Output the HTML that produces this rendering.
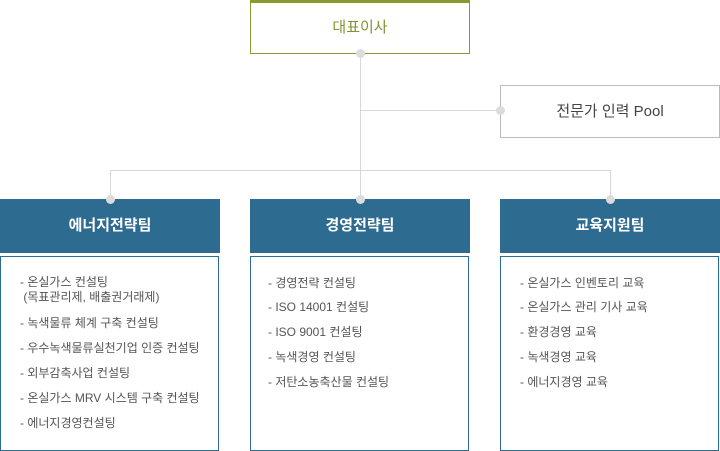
<!DOCTYPE html>
<html><head><meta charset="utf-8"><style>
body{margin:0;width:720px;height:451px;position:relative;background:#fff;font-family:"Liberation Sans","Noto Sans CJK KR",sans-serif;overflow:hidden}
.a{position:absolute}
.top{left:250px;top:0;width:218px;height:50px;border:1px solid #8a9a30;border-top:3px solid #8a9a30;color:#7f9430;font-size:15px;text-align:center;line-height:50px}
.pool{left:500px;top:85px;width:218px;height:51px;border:1px solid #bbb;color:#444;font-size:15px;text-align:center;line-height:51px}
.hl{background:#d8d8d8}
.dot{width:9px;height:9px;border-radius:50%;background:#dcdcdc}
.hd{top:199px;width:220px;height:54px;background:#2e6b91;color:#fff;font-size:15px;font-weight:bold;text-align:center;line-height:54px}
.bx{top:256px;width:217px;height:193px;border:1.5px solid #2e6b91}
.t{font-size:12px;color:#555;white-space:nowrap;line-height:15px}
</style></head><body>
<div class="a top">대표이사</div>
<div class="a hl" style="left:360px;top:53px;width:1px;height:146px"></div>
<div class="a hl" style="left:360px;top:110px;width:140px;height:1px"></div>
<div class="a hl" style="left:110px;top:170px;width:501px;height:1px"></div>
<div class="a hl" style="left:110px;top:170px;width:1px;height:29px"></div>
<div class="a hl" style="left:610px;top:170px;width:1px;height:29px"></div>
<div class="a pool">전문가 인력 Pool</div>
<div class="a hd" style="left:0">에너지전략팀</div>
<div class="a hd" style="left:250px">경영전략팀</div>
<div class="a hd" style="left:500px">교육지원팀</div>
<div class="a dot" style="left:356px;top:49px"></div>
<div class="a dot" style="left:496px;top:106px"></div>
<div class="a dot" style="left:106px;top:195px"></div>
<div class="a dot" style="left:356px;top:195px"></div>
<div class="a dot" style="left:606px;top:195px"></div>
<div class="a bx" style="left:0"></div>
<div class="a bx" style="left:250px"></div>
<div class="a bx" style="left:500px"></div>
<div class="a t" style="left:20px;top:275px">- 온실가스 컨설팅<br>&nbsp;(목표관리제, 배출권거래제)</div>
<div class="a t" style="left:20px;top:316px">- 녹색물류 체계 구축 컨설팅</div>
<div class="a t" style="left:20px;top:341px">- 우수녹색물류실천기업 인증 컨설팅</div>
<div class="a t" style="left:20px;top:366px">- 외부감축사업 컨설팅</div>
<div class="a t" style="left:20px;top:391px">- 온실가스 MRV 시스템 구축 컨설팅</div>
<div class="a t" style="left:20px;top:416px">- 에너지경영컨설팅</div>
<div class="a t" style="left:268px;top:276px">- 경영전략 컨설팅</div>
<div class="a t" style="left:268px;top:300px">- ISO 14001 컨설팅</div>
<div class="a t" style="left:268px;top:325px">- ISO 9001 컨설팅</div>
<div class="a t" style="left:268px;top:350px">- 녹색경영 컨설팅</div>
<div class="a t" style="left:268px;top:375px">- 저탄소농축산물 컨설팅</div>
<div class="a t" style="left:520px;top:276px">- 온실가스 인벤토리 교육</div>
<div class="a t" style="left:520px;top:300px">- 온실가스 관리 기사 교육</div>
<div class="a t" style="left:520px;top:325px">- 환경경영 교육</div>
<div class="a t" style="left:520px;top:350px">- 녹색경영 교육</div>
<div class="a t" style="left:520px;top:375px">- 에너지경영 교육</div>
</body></html>
